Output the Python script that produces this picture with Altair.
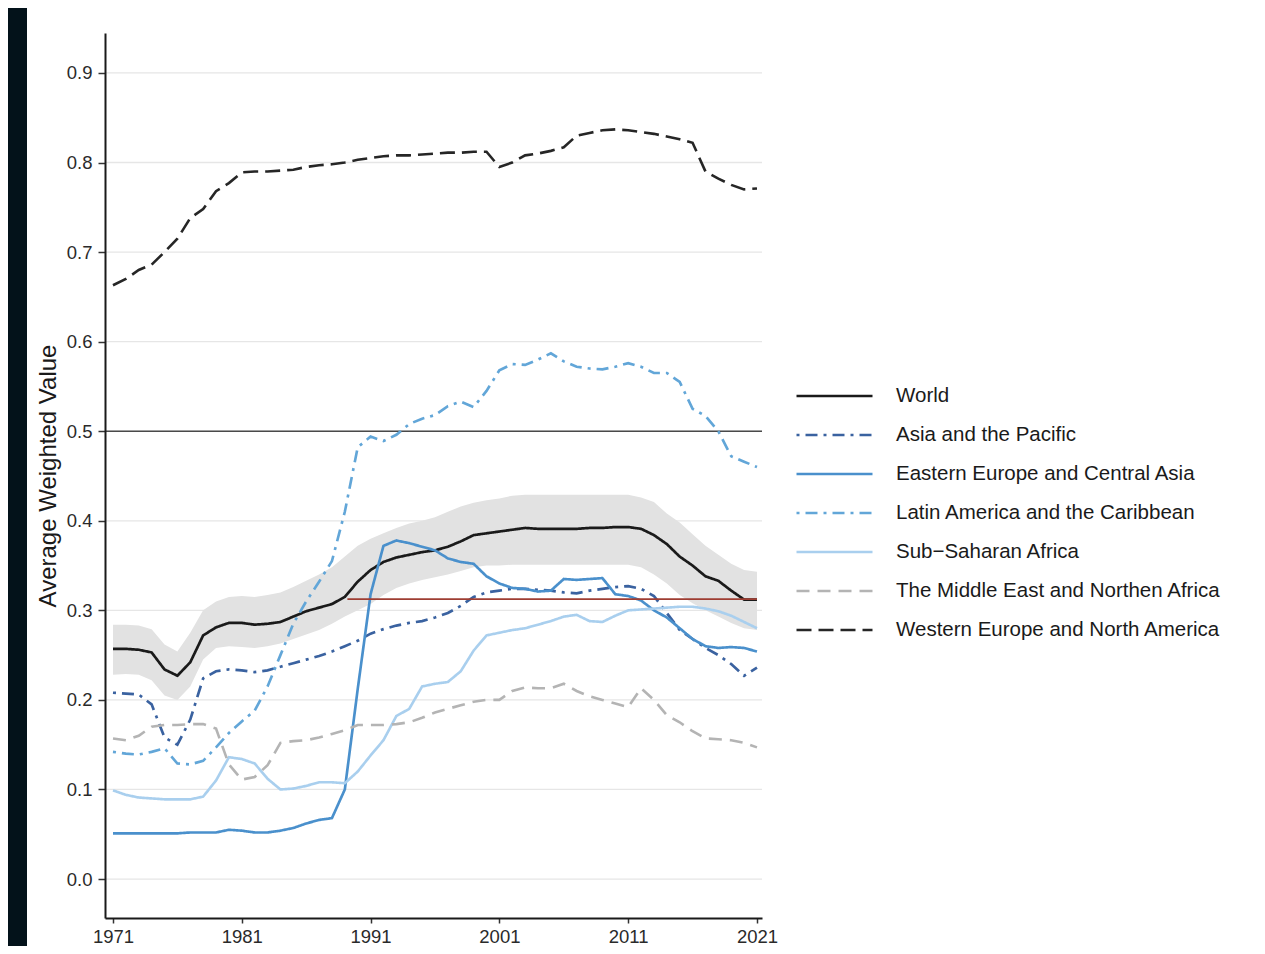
import altair as alt
import pandas as pd

FONT = "Liberation Sans"

years = list(range(1971, 2022))

world = [0.257, 0.257, 0.256, 0.253, 0.234, 0.227, 0.242, 0.272, 0.281, 0.286,
         0.286, 0.284, 0.285, 0.287, 0.293, 0.299, 0.303, 0.307, 0.315, 0.332,
         0.345, 0.354, 0.359, 0.362, 0.365, 0.367, 0.371, 0.377, 0.384, 0.386,
         0.388, 0.390, 0.392, 0.391, 0.391, 0.391, 0.391, 0.392, 0.392, 0.393,
         0.393, 0.391, 0.384, 0.374, 0.360, 0.350, 0.338, 0.333, 0.322, 0.312,
         0.312]

band_lower = [0.228, 0.229, 0.228, 0.222, 0.205, 0.200, 0.215, 0.245, 0.258, 0.260,
              0.259, 0.258, 0.260, 0.263, 0.268, 0.273, 0.278, 0.285, 0.293, 0.300,
              0.307, 0.317, 0.325, 0.330, 0.334, 0.337, 0.340, 0.344, 0.348, 0.350,
              0.350, 0.351, 0.351, 0.351, 0.351, 0.351, 0.351, 0.351, 0.351, 0.351,
              0.351, 0.348, 0.340, 0.330, 0.317, 0.308, 0.300, 0.293, 0.286, 0.280,
              0.278]

band_upper = [0.284, 0.284, 0.283, 0.279, 0.262, 0.254, 0.275, 0.300, 0.310, 0.315,
              0.316, 0.315, 0.317, 0.320, 0.326, 0.333, 0.340, 0.348, 0.360, 0.372,
              0.380, 0.386, 0.392, 0.397, 0.400, 0.404, 0.410, 0.416, 0.420, 0.423,
              0.425, 0.428, 0.429, 0.429, 0.429, 0.429, 0.429, 0.429, 0.429, 0.429,
              0.429, 0.426, 0.421, 0.408, 0.398, 0.385, 0.372, 0.362, 0.352, 0.345,
              0.343]

asia = [0.208, 0.207, 0.206, 0.195, 0.158, 0.150, 0.178, 0.224, 0.232, 0.234,
        0.233, 0.231, 0.233, 0.237, 0.241, 0.245, 0.249, 0.254, 0.260, 0.266,
        0.274, 0.279, 0.283, 0.286, 0.288, 0.292, 0.297, 0.305, 0.315, 0.320,
        0.322, 0.324, 0.324, 0.323, 0.322, 0.320, 0.319, 0.322, 0.324, 0.326,
        0.327, 0.324, 0.316, 0.297, 0.278, 0.268, 0.258, 0.250, 0.240, 0.227,
        0.236]

eastern = [0.051, 0.051, 0.051, 0.051, 0.051, 0.051, 0.052, 0.052, 0.052, 0.055,
           0.054, 0.052, 0.052, 0.054, 0.057, 0.062, 0.066, 0.068, 0.100, 0.212,
           0.318, 0.372, 0.378, 0.375, 0.371, 0.367, 0.358, 0.354, 0.352, 0.338,
           0.330, 0.325, 0.324, 0.321, 0.322, 0.335, 0.334, 0.335, 0.336, 0.318,
           0.316, 0.311, 0.300, 0.292, 0.280, 0.268, 0.260, 0.258, 0.259, 0.258,
           0.254]

latin = [0.142, 0.140, 0.139, 0.142, 0.146, 0.129, 0.128, 0.132, 0.147, 0.163,
         0.176, 0.188, 0.215, 0.250, 0.285, 0.310, 0.332, 0.355, 0.410, 0.482,
         0.494, 0.489, 0.496, 0.508, 0.514, 0.518, 0.528, 0.533, 0.527, 0.545,
         0.568, 0.575, 0.574, 0.580, 0.587, 0.578, 0.572, 0.570, 0.569, 0.572,
         0.576, 0.572, 0.565, 0.565, 0.555, 0.525, 0.517, 0.500, 0.472, 0.466,
         0.460]

subsaharan = [0.099, 0.094, 0.091, 0.090, 0.089, 0.089, 0.089, 0.092, 0.110, 0.136,
              0.134, 0.129, 0.112, 0.100, 0.101, 0.104, 0.108, 0.108, 0.107, 0.120,
              0.138, 0.155, 0.182, 0.190, 0.215, 0.218, 0.220, 0.232, 0.255, 0.272,
              0.275, 0.278, 0.280, 0.284, 0.288, 0.293, 0.295, 0.288, 0.287, 0.294,
              0.300, 0.301, 0.302, 0.303, 0.304, 0.304, 0.302, 0.299, 0.294, 0.287,
              0.280]

mena = [0.157, 0.155, 0.160, 0.170, 0.172, 0.172, 0.173, 0.173, 0.168, 0.128,
        0.111, 0.114, 0.127, 0.152, 0.154, 0.155, 0.158, 0.162, 0.166, 0.172,
        0.172, 0.172, 0.173, 0.175, 0.180, 0.186, 0.190, 0.194, 0.198, 0.200,
        0.200, 0.210, 0.214, 0.213, 0.213, 0.218, 0.210, 0.204, 0.200, 0.196,
        0.192, 0.213, 0.200, 0.183, 0.175, 0.165, 0.157, 0.156, 0.155, 0.152,
        0.147]

western = [0.663, 0.670, 0.680, 0.686, 0.700, 0.715, 0.738, 0.748, 0.768, 0.777,
           0.789, 0.790, 0.790, 0.791, 0.792, 0.795, 0.797, 0.798, 0.800, 0.803,
           0.805, 0.807, 0.808, 0.808, 0.809, 0.810, 0.811, 0.811, 0.812, 0.812,
           0.795, 0.800, 0.808, 0.810, 0.813, 0.817, 0.830, 0.833, 0.836, 0.837,
           0.836, 0.834, 0.832, 0.829, 0.826, 0.822, 0.790, 0.782, 0.775, 0.770,
           0.771]

series_names = ["World", "Asia and the Pacific", "Eastern Europe and Central Asia",
                "Latin America and the Caribbean", "Sub\u2212Saharan Africa",
                "The Middle East and Northen Africa", "Western Europe and North America"]
series_values = [world, asia, eastern, latin, subsaharan, mena, western]
series_colors = ["#1a1a1a", "#3a62a0", "#4a90cc", "#62a6d8", "#a9cfee", "#b4b4b4", "#262626"]
series_dashes = [[1, 0], [3, 6, 12, 6], [1, 0], [3, 6, 12, 6], [1, 0], [13, 8], [15, 7]]
series_widths = [2.7, 2.6, 2.0, 2.2, 1.6, 2.2, 2.5]

half_line = 0.5
red_years = [1989.2, 2021]
red_value = 0.3125
y_ticks = [0.0, 0.1, 0.2, 0.3, 0.4, 0.5, 0.6, 0.7, 0.8, 0.9]
x_ticks = [1971, 1981, 1991, 2001, 2011, 2021]

rows = []
for name, vals in zip(series_names, series_values):
    for yr, v in zip(years, vals):
        rows.append({"year": yr, "value": v, "series": name})
df = pd.DataFrame(rows)
band_df = pd.DataFrame({"year": years, "lo": band_lower, "hi": band_upper})
grid_df = pd.DataFrame({"g": y_ticks})
half_df = pd.DataFrame({"v": [half_line]})
red_df = pd.DataFrame({"x0": [red_years[0]], "x1": [red_years[1]], "v": [red_value]})

W, H = 657, 885
PAD_L, PAD_T, PAD_R, PAD_B = 97, 25, 486, 28

xscale = alt.Scale(domain=[1970.38, 2021.39], nice=False, zero=False)
yscale = alt.Scale(domain=[-0.0435, 0.9446], nice=False, zero=False)

xaxis = alt.Axis(values=x_ticks, format="d", title=None, grid=False,
                 domainColor="#1a1a1a", domainWidth=2, tickColor="#333333",
                 tickWidth=1.5, tickSize=5, labelFontSize=18.5, labelFont=FONT,
                 labelColor="#2a2a2a", labelPadding=4, labelFlush=False, zindex=1)
yaxis = alt.Axis(values=y_ticks, format=".1f", title="Average Weighted Value",
                 grid=False, domainColor="#1a1a1a", domainWidth=2,
                 tickColor="#333333", tickWidth=1.5, tickSize=7,
                 labelFontSize=18.5, labelFont=FONT, labelColor="#2a2a2a",
                 labelPadding=6, titleFont=FONT, titleFontSize=24,
                 titleFontWeight="normal", titleColor="#1a1a1a",
                 titlePadding=6, zindex=1)

legend = alt.Legend(orient="none", legendX=690, legendY=353, title=None,
                    symbolType="stroke", symbolSize=5776, symbolStrokeWidth=2.5,
                    labelFontSize=20.5, labelFont=FONT, labelColor="#1a1a1a",
                    labelOffset=22, clipHeight=20, rowPadding=18, padding=0,
                    zindex=1, labelLimit=600)

bg = alt.Chart(pd.DataFrame({"a": [0]})).mark_rect(color="white").encode(
    x=alt.value(-78), x2=alt.value(W + PAD_R), y=alt.value(-PAD_T), y2=alt.value(H + PAD_B)
)

grid = alt.Chart(grid_df).mark_rule(color="#e6e6e6", strokeWidth=1.3).encode(
    y=alt.Y("g:Q", scale=yscale, axis=yaxis)
)

band = alt.Chart(band_df).mark_area(color="#e2e2e2", opacity=1).encode(
    x=alt.X("year:Q", scale=xscale, axis=xaxis),
    y=alt.Y("lo:Q", scale=yscale, axis=yaxis),
    y2="hi:Q",
)

half = alt.Chart(half_df).mark_rule(color="#4a4a4a", strokeWidth=1.5).encode(
    y=alt.Y("v:Q", scale=yscale, axis=yaxis)
)

lines = alt.Chart(df).mark_line().encode(
    x=alt.X("year:Q", scale=xscale, axis=xaxis),
    y=alt.Y("value:Q", scale=yscale, axis=yaxis),
    color=alt.Color("series:N", scale=alt.Scale(domain=series_names, range=series_colors), legend=legend),
    strokeDash=alt.StrokeDash("series:N", scale=alt.Scale(domain=series_names, range=series_dashes), legend=legend),
    strokeWidth=alt.StrokeWidth("series:O", scale=alt.Scale(domain=series_names, range=series_widths), legend=None),
)

red = alt.Chart(red_df).mark_rule(color="#9e3d32", strokeWidth=1.8).encode(
    x=alt.X("x0:Q", scale=xscale, axis=xaxis),
    x2="x1:Q",
    y=alt.Y("v:Q", scale=yscale, axis=yaxis),
)

chart = alt.layer(bg, grid, band, half, lines, red).properties(
    width=W, height=H,
    padding={"left": PAD_L, "top": PAD_T, "right": PAD_R, "bottom": PAD_B},
    autosize=alt.AutoSizeParams(type="none"),
    background="#03121a",
).configure_view(stroke=None)

chart.save("out.html", embed_options={"renderer": "svg", "actions": False})
